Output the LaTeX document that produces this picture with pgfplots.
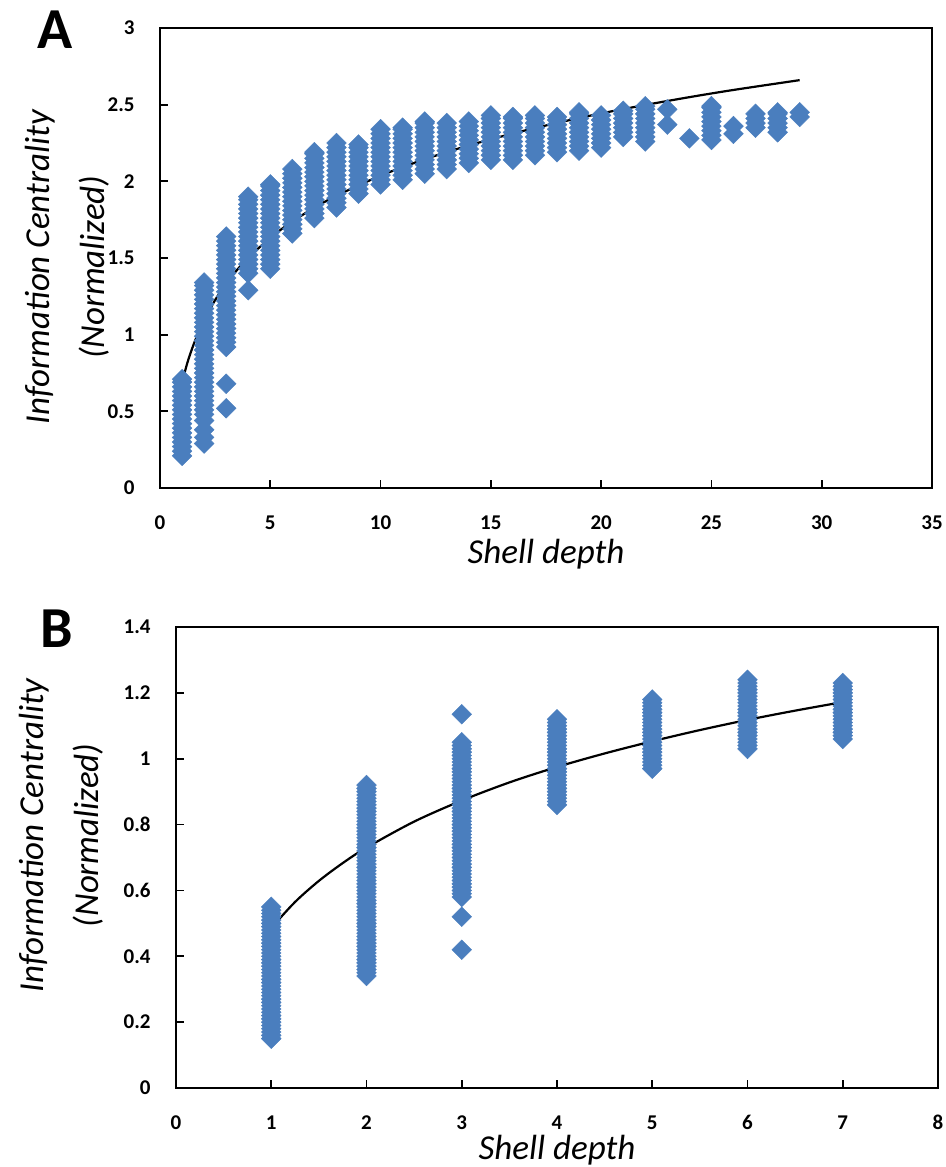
\documentclass[border=0pt]{standalone}
\usepackage{fontspec}
\setmainfont{Carlito}
\usepackage{pgfplots}
\pgfplotsset{compat=1.18}
\definecolor{ptblue}{RGB}{74,126,190}
\pgfplotsset{
  panel/.style={
    scale only axis,
    axis line style={line width=0.9pt, black},
    every tick/.style={line width=0.9pt, black},
    major tick length=4pt,
    tick align=inside,
    tick pos=left,
    /pgf/number format/assume math mode=true,
    ticklabel style={font=\fontsize{10.5}{12}\selectfont\bfseries},
    yticklabel style={inner sep=0pt, anchor=east, xshift=-12.5pt},
    xticklabel style={inner sep=0pt, anchor=north, yshift=-13.5pt},
    label style={font=\fontsize{17.5}{27.5}\selectfont\itshape},
    ylabel style={anchor=center, align=center},
    clip=false,
  },
  dots/.style={only marks, mark=square*, mark size=3.5pt,
    mark options={rotate=45, fill=ptblue, draw=ptblue, line width=0.2pt}},
  trend/.style={black, line width=1.1pt, smooth, no marks},
}
\begin{document}
\begin{tikzpicture}
\useasboundingbox (0,0) rectangle (473pt,-583.5pt);
\node[font=\fontsize{29}{30}\selectfont\bfseries] at (27.5pt,-15pt) {A};
\node[font=\fontsize{29}{30}\selectfont\bfseries] at (28.5pt,-314.5pt) {B};
\begin{axis}[panel,
  at={(80pt,-244pt)}, anchor=south west, width=386pt, height=230pt,
  xmin=0, xmax=35, ymin=0, ymax=3,
  xtick={0,5,10,15,20,25,30,35},
  ytick={0,0.5,1,1.5,2,2.5,3},
  xlabel={Shell depth},
  ylabel={Information Centrality\\(Normalized)},
  xlabel style={at={(axis description cs:0.5,-0.165)}, anchor=base},
  ylabel style={at={(axis description cs:-0.12,0.48)}},
]
\addplot[dots] coordinates {
(1,0.21)(1,0.24)(1,0.27)(1,0.30)(1,0.33)(1,0.36)(1,0.39)(1,0.42)(1,0.45)(1,0.48)(1,0.51)(1,0.54)(1,0.57)(1,0.60)(1,0.63)(1,0.66)(1,0.69)(1,0.71)
(2,0.29)(2,0.33)(2,0.38)(2,0.44)(2,0.48)(2,0.51)(2,0.54)(2,0.57)(2,0.60)(2,0.63)(2,0.66)(2,0.69)(2,0.72)(2,0.75)(2,0.78)(2,0.81)(2,0.84)(2,0.87)(2,0.90)(2,0.93)(2,0.96)(2,0.99)(2,1.02)(2,1.05)(2,1.08)(2,1.11)(2,1.14)(2,1.17)(2,1.20)(2,1.23)(2,1.26)(2,1.29)(2,1.32)(2,1.34)
(3,0.52)(3,0.68)(3,0.92)(3,0.95)(3,0.98)(3,1.01)(3,1.04)(3,1.07)(3,1.10)(3,1.13)(3,1.16)(3,1.19)(3,1.22)(3,1.25)(3,1.28)(3,1.31)(3,1.34)(3,1.37)(3,1.40)(3,1.43)(3,1.46)(3,1.49)(3,1.52)(3,1.55)(3,1.58)(3,1.61)(3,1.64)
(4,1.29)(4,1.40)(4,1.43)(4,1.46)(4,1.49)(4,1.52)(4,1.55)(4,1.58)(4,1.61)(4,1.64)(4,1.67)(4,1.70)(4,1.73)(4,1.76)(4,1.79)(4,1.82)(4,1.85)(4,1.88)(4,1.90)
(5,1.43)(5,1.46)(5,1.49)(5,1.52)(5,1.55)(5,1.58)(5,1.61)(5,1.64)(5,1.67)(5,1.70)(5,1.73)(5,1.76)(5,1.79)(5,1.82)(5,1.85)(5,1.88)(5,1.91)(5,1.94)(5,1.97)(5,1.98)
(6,1.66)(6,1.69)(6,1.72)(6,1.75)(6,1.78)(6,1.81)(6,1.84)(6,1.87)(6,1.90)(6,1.93)(6,1.96)(6,1.99)(6,2.02)(6,2.05)(6,2.08)
(7,1.76)(7,1.79)(7,1.82)(7,1.85)(7,1.88)(7,1.91)(7,1.94)(7,1.97)(7,2.00)(7,2.03)(7,2.06)(7,2.09)(7,2.12)(7,2.15)(7,2.18)(7,2.19)
(8,1.83)(8,1.86)(8,1.89)(8,1.92)(8,1.95)(8,1.98)(8,2.01)(8,2.04)(8,2.07)(8,2.10)(8,2.13)(8,2.16)(8,2.19)(8,2.22)(8,2.25)
(9,1.92)(9,1.95)(9,1.98)(9,2.01)(9,2.04)(9,2.07)(9,2.10)(9,2.13)(9,2.16)(9,2.19)(9,2.22)(9,2.24)
(10,1.98)(10,2.01)(10,2.04)(10,2.07)(10,2.10)(10,2.13)(10,2.16)(10,2.19)(10,2.22)(10,2.25)(10,2.28)(10,2.31)(10,2.34)
(11,2.01)(11,2.04)(11,2.07)(11,2.10)(11,2.13)(11,2.16)(11,2.19)(11,2.22)(11,2.25)(11,2.28)(11,2.31)(11,2.34)(11,2.35)
(12,2.05)(12,2.08)(12,2.11)(12,2.14)(12,2.17)(12,2.20)(12,2.23)(12,2.26)(12,2.29)(12,2.32)(12,2.35)(12,2.38)(12,2.39)
(13,2.08)(13,2.11)(13,2.14)(13,2.17)(13,2.20)(13,2.23)(13,2.26)(13,2.29)(13,2.32)(13,2.35)(13,2.38)
(14,2.12)(14,2.15)(14,2.18)(14,2.21)(14,2.24)(14,2.27)(14,2.30)(14,2.33)(14,2.36)(14,2.39)
(15,2.14)(15,2.17)(15,2.20)(15,2.23)(15,2.26)(15,2.29)(15,2.32)(15,2.35)(15,2.38)(15,2.41)(15,2.43)
(16,2.14)(16,2.17)(16,2.20)(16,2.23)(16,2.26)(16,2.29)(16,2.32)(16,2.35)(16,2.38)(16,2.41)(16,2.42)
(17,2.17)(17,2.20)(17,2.23)(17,2.26)(17,2.29)(17,2.32)(17,2.35)(17,2.38)(17,2.41)(17,2.43)
(18,2.19)(18,2.22)(18,2.25)(18,2.28)(18,2.31)(18,2.34)(18,2.37)(18,2.40)(18,2.42)
(19,2.20)(19,2.23)(19,2.26)(19,2.29)(19,2.32)(19,2.35)(19,2.38)(19,2.41)(19,2.44)(19,2.45)
(20,2.22)(20,2.25)(20,2.28)(20,2.31)(20,2.34)(20,2.37)(20,2.40)(20,2.43)
(21,2.29)(21,2.32)(21,2.35)(21,2.38)(21,2.41)(21,2.44)(21,2.46)
(22,2.26)(22,2.29)(22,2.32)(22,2.35)(22,2.38)(22,2.41)(22,2.44)(22,2.47)(22,2.49)
(23,2.37)(23,2.47)
(24,2.28)
(25,2.27)(25,2.30)(25,2.33)(25,2.36)(25,2.39)(25,2.42)(25,2.45)(25,2.48)(25,2.49)
(26,2.31)(26,2.36)
(27,2.35)(27,2.38)(27,2.41)(27,2.44)
(28,2.32)(28,2.35)(28,2.38)(28,2.41)(28,2.44)(28,2.45)
(29,2.42)(29,2.45)
};
\addplot[trend] coordinates {
(1,0.690)(1.25,0.821)(1.5,0.927)(1.75,1.017)(2,1.095)(2.5,1.226)(3,1.333)(3.5,1.423)(4,1.501)(5,1.632)(6,1.738)(7,1.828)(8,1.906)(10,2.037)(12,2.144)(14,2.234)(16,2.312)(18,2.381)(20,2.443)(22,2.498)(24,2.549)(26,2.596)(29,2.660)
};
\end{axis}
\begin{axis}[panel,
  at={(88pt,-544pt)}, anchor=south west, width=381pt, height=230.5pt,
  xmin=0, xmax=8, ymin=0, ymax=1.4,
  xtick={0,1,2,3,4,5,6,7,8},
  ytick={0,0.2,0.4,0.6,0.8,1,1.2,1.4},
  xlabel={Shell depth},
  ylabel={Information Centrality\\(Normalized)},
  xlabel style={at={(axis description cs:0.5,-0.154)}, anchor=base},
  ylabel style={at={(axis description cs:-0.15,0.548)}},
]
\addplot[dots] coordinates {
(1,0.15)(1,0.16)(1,0.17)(1,0.18)(1,0.19)(1,0.20)(1,0.21)(1,0.22)(1,0.23)(1,0.24)(1,0.25)(1,0.26)(1,0.27)(1,0.28)(1,0.29)(1,0.30)(1,0.31)(1,0.32)(1,0.33)(1,0.34)(1,0.35)(1,0.36)(1,0.37)(1,0.38)(1,0.39)(1,0.40)(1,0.41)(1,0.42)(1,0.43)(1,0.44)(1,0.45)(1,0.46)(1,0.47)(1,0.48)(1,0.49)(1,0.50)(1,0.51)(1,0.52)(1,0.53)(1,0.54)(1,0.55)
(2,0.34)(2,0.35)(2,0.36)(2,0.37)(2,0.38)(2,0.39)(2,0.40)(2,0.41)(2,0.42)(2,0.43)(2,0.44)(2,0.45)(2,0.46)(2,0.47)(2,0.48)(2,0.49)(2,0.50)(2,0.51)(2,0.52)(2,0.53)(2,0.54)(2,0.55)(2,0.56)(2,0.57)(2,0.58)(2,0.59)(2,0.60)(2,0.61)(2,0.62)(2,0.63)(2,0.64)(2,0.65)(2,0.66)(2,0.67)(2,0.68)(2,0.69)(2,0.70)(2,0.71)(2,0.72)(2,0.73)(2,0.74)(2,0.75)(2,0.76)(2,0.77)(2,0.78)(2,0.79)(2,0.80)(2,0.81)(2,0.82)(2,0.83)(2,0.84)(2,0.85)(2,0.86)(2,0.87)(2,0.88)(2,0.89)(2,0.90)(2,0.91)(2,0.92)
(3,0.42)(3,0.52)(3,0.58)(3,0.59)(3,0.60)(3,0.61)(3,0.62)(3,0.63)(3,0.64)(3,0.65)(3,0.66)(3,0.67)(3,0.68)(3,0.69)(3,0.70)(3,0.71)(3,0.72)(3,0.73)(3,0.74)(3,0.75)(3,0.76)(3,0.77)(3,0.78)(3,0.79)(3,0.80)(3,0.81)(3,0.82)(3,0.83)(3,0.84)(3,0.85)(3,0.86)(3,0.87)(3,0.88)(3,0.89)(3,0.90)(3,0.91)(3,0.92)(3,0.93)(3,0.94)(3,0.95)(3,0.96)(3,0.97)(3,0.98)(3,0.99)(3,1.00)(3,1.01)(3,1.02)(3,1.03)(3,1.04)(3,1.05)(3,1.135)
(4,0.86)(4,0.87)(4,0.88)(4,0.89)(4,0.90)(4,0.91)(4,0.92)(4,0.93)(4,0.94)(4,0.95)(4,0.96)(4,0.97)(4,0.98)(4,0.99)(4,1.00)(4,1.01)(4,1.02)(4,1.03)(4,1.04)(4,1.05)(4,1.06)(4,1.07)(4,1.08)(4,1.09)(4,1.10)(4,1.11)(4,1.12)
(5,0.97)(5,0.98)(5,0.99)(5,1.00)(5,1.01)(5,1.02)(5,1.03)(5,1.04)(5,1.05)(5,1.06)(5,1.07)(5,1.08)(5,1.09)(5,1.10)(5,1.11)(5,1.12)(5,1.13)(5,1.14)(5,1.15)(5,1.16)(5,1.17)(5,1.18)
(6,1.03)(6,1.04)(6,1.05)(6,1.06)(6,1.07)(6,1.08)(6,1.09)(6,1.10)(6,1.11)(6,1.12)(6,1.13)(6,1.14)(6,1.15)(6,1.16)(6,1.17)(6,1.18)(6,1.19)(6,1.20)(6,1.21)(6,1.22)(6,1.23)(6,1.24)
(7,1.06)(7,1.07)(7,1.08)(7,1.09)(7,1.10)(7,1.11)(7,1.12)(7,1.13)(7,1.14)(7,1.15)(7,1.16)(7,1.17)(7,1.18)(7,1.19)(7,1.20)(7,1.21)(7,1.22)(7,1.23)
};
\addplot[trend] coordinates {
(1,0.486)(1.25,0.565)(1.5,0.629)(1.75,0.683)(2,0.730)(2.5,0.809)(3,0.873)(3.5,0.928)(4,0.975)(4.5,1.016)(5,1.053)(5.5,1.087)(6,1.118)(6.5,1.146)(7,1.172)
};
\end{axis}
\end{tikzpicture}
\end{document}
